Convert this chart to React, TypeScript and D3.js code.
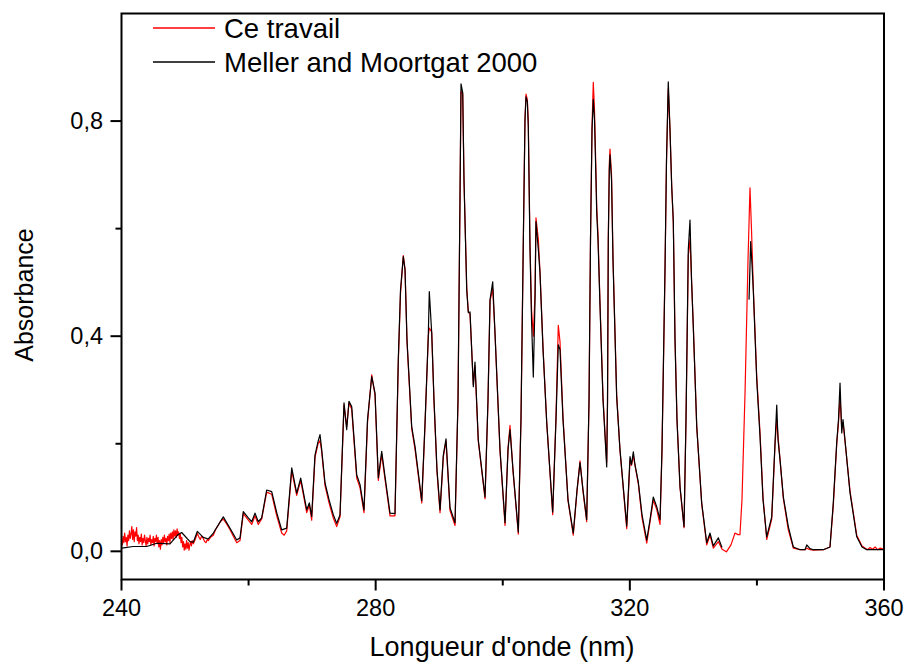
import React from 'react';
import * as d3 from 'd3';

const xTicksMajor = [240, 280, 320, 360];
const xTicksMinor = [260, 300, 340];
const yTicksMajor = [0, 0.4, 0.8];
const yTicksMinor = [0.2, 0.6];
const seriesNames = ['Ce travail', 'Meller and Moortgat 2000'];
const seriesColors = ['#ff0000', '#000000'];
const xTitle = "Longueur d'onde (nm)";
const yTitle = 'Absorbance';

// "Ce travail" spectrum: [wavelength nm, absorbance]
const ceTravail: [number, number][] = [
  [240.0, 0.020], [240.125, 0.012], [240.25, 0.028], [240.375, 0.016], [240.5, 0.034], [240.625, 0.018],
  [240.75, 0.026], [240.875, 0.010], [241.0, 0.030], [241.125, 0.020], [241.25, 0.038], [241.375, 0.024],
  [241.5, 0.032], [241.625, 0.046], [241.75, 0.022], [241.875, 0.040], [242.0, 0.018], [242.125, 0.036],
  [242.25, 0.028], [242.375, 0.044], [242.5, 0.020], [242.625, 0.030], [242.75, 0.014], [242.875, 0.026],
  [243.0, 0.018], [243.125, 0.032], [243.25, 0.012], [243.375, 0.024], [243.5, 0.016], [243.625, 0.030],
  [243.75, 0.020], [243.875, 0.010], [244.0, 0.026], [244.125, 0.014], [244.25, 0.024], [244.375, 0.018],
  [244.5, 0.030], [244.625, 0.012], [244.75, 0.022], [244.875, 0.016], [245.0, 0.028], [245.125, 0.010],
  [245.25, 0.024], [245.375, 0.018], [245.5, 0.030], [245.625, 0.014], [245.75, 0.026], [245.875, 0.008],
  [246.0, 0.020], [246.125, 0.004], [246.25, 0.022], [246.375, 0.012], [246.5, 0.026], [246.625, 0.016],
  [246.75, 0.030], [246.875, 0.018], [247.0, 0.024], [247.125, 0.012], [247.25, 0.028], [247.375, 0.020],
  [247.5, 0.032], [247.625, 0.016], [247.75, 0.034], [247.875, 0.024], [248.0, 0.036], [248.125, 0.022],
  [248.25, 0.040], [248.375, 0.028], [248.5, 0.038], [248.625, 0.026], [248.75, 0.042], [248.875, 0.030],
  [249.0, 0.036], [249.125, 0.024], [249.25, 0.032], [249.375, 0.016], [249.5, 0.026], [249.625, 0.008],
  [249.75, 0.018], [249.875, 0.002], [250.0, 0.014], [250.125, 0.004], [250.25, 0.020], [250.375, 0.006],
  [250.5, 0.016], [250.625, 0.002], [250.75, 0.012], [250.875, 0.018], [251.0, 0.010], [251.125, 0.020],
  [251.30, 0.014], [251.6, 0.022], [251.93, 0.033], [252.2, 0.026], [252.4, 0.022], [252.6, 0.028],
  [252.87, 0.024], [253.1, 0.018], [253.3, 0.016], [253.5, 0.022], [253.66, 0.020], [254.0, 0.026],
  [254.45, 0.030], [254.8, 0.040], [255.2, 0.048], [255.6, 0.056], [256.02, 0.060], [256.5, 0.052],
  [257.08, 0.040], [257.6, 0.028], [258.13, 0.016], [258.65, 0.020], [259.17, 0.070], [259.96, 0.058],
  [260.49, 0.050], [261.01, 0.066], [261.53, 0.050], [262.06, 0.060], [262.85, 0.110], [263.64, 0.106],
  [264.43, 0.066], [265.21, 0.034], [265.6, 0.030], [266.00, 0.038], [266.79, 0.150], [267.57, 0.104],
  [268.20, 0.132], [269.15, 0.072], [269.56, 0.086], [269.93, 0.058], [270.45, 0.174], [270.93, 0.200],
  [271.24, 0.206], [271.48, 0.188], [272.03, 0.122], [272.66, 0.090], [273.33, 0.062], [273.87, 0.046],
  [274.39, 0.064], [275.02, 0.272], [275.44, 0.232], [275.80, 0.276], [276.23, 0.264], [277.02, 0.136],
  [277.54, 0.118], [278.16, 0.072], [278.72, 0.240], [279.38, 0.328], [279.90, 0.290], [280.42, 0.132],
  [280.95, 0.180], [281.47, 0.134], [282.26, 0.066], [283.04, 0.066], [283.56, 0.350], [283.91, 0.480],
  [284.35, 0.550], [284.62, 0.525], [284.93, 0.390], [285.67, 0.228], [286.19, 0.190], [287.25, 0.090],
  [287.77, 0.235], [288.28, 0.400], [288.44, 0.415], [288.82, 0.408], [289.18, 0.278], [289.65, 0.148],
  [290.13, 0.072], [290.65, 0.176], [291.07, 0.205], [291.70, 0.076], [292.49, 0.048], [292.96, 0.280],
  [293.27, 0.650], [293.43, 0.855], [293.70, 0.850], [293.90, 0.690], [294.33, 0.490], [294.58, 0.446],
  [294.85, 0.440], [295.37, 0.310], [295.63, 0.345], [296.15, 0.205], [297.21, 0.098], [297.68, 0.280],
  [298.00, 0.466], [298.42, 0.488], [298.78, 0.405], [299.57, 0.186], [300.36, 0.048], [300.83, 0.192],
  [301.14, 0.234], [301.61, 0.150], [302.45, 0.032], [302.87, 0.245], [303.24, 0.580], [303.50, 0.805],
  [303.66, 0.850], [303.87, 0.840], [304.02, 0.800], [304.29, 0.570], [304.53, 0.450], [304.81, 0.400],
  [305.08, 0.480], [305.23, 0.620], [305.60, 0.580], [305.86, 0.520], [306.34, 0.378], [306.92, 0.240],
  [307.86, 0.068], [308.38, 0.250], [308.74, 0.420], [309.01, 0.390], [309.48, 0.250], [310.27, 0.094],
  [311.10, 0.030], [311.69, 0.112], [312.16, 0.168], [312.63, 0.112], [313.21, 0.055], [313.58, 0.280],
  [313.81, 0.580], [314.05, 0.790], [314.25, 0.872], [314.44, 0.820], [314.68, 0.700], [314.79, 0.640],
  [314.99, 0.590], [315.31, 0.460], [315.78, 0.285], [316.36, 0.165], [316.49, 0.280], [316.61, 0.580],
  [316.77, 0.720], [316.88, 0.748], [317.12, 0.700], [317.35, 0.545], [317.93, 0.290], [318.45, 0.188],
  [319.51, 0.042], [320.03, 0.170], [320.26, 0.160], [320.55, 0.178], [320.81, 0.160], [321.33, 0.126],
  [321.92, 0.062], [322.66, 0.015], [323.18, 0.055], [323.69, 0.095], [324.23, 0.078], [324.75, 0.050],
  [325.06, 0.185], [325.54, 0.525], [325.77, 0.725], [326.05, 0.860], [326.32, 0.785], [326.59, 0.680],
  [326.84, 0.610], [327.11, 0.395], [327.42, 0.245], [327.90, 0.118], [328.53, 0.044], [328.84, 0.245],
  [329.20, 0.550], [329.47, 0.580], [329.71, 0.505], [329.99, 0.418], [330.53, 0.232], [331.31, 0.088],
  [332.10, 0.012], [332.62, 0.030], [333.14, 0.006], [333.93, 0.018], [334.51, 0.004], [335.2, -0.001],
  [335.92, 0.012], [336.55, 0.034], [337.02, 0.031], [337.33, 0.031], [337.65, 0.096], [338.13, 0.295],
  [338.60, 0.542], [338.91, 0.676], [339.15, 0.598], [339.43, 0.490], [339.97, 0.325], [340.49, 0.220],
  [340.96, 0.100], [341.54, 0.022], [342.33, 0.060], [342.85, 0.198], [343.12, 0.245], [343.32, 0.215],
  [343.64, 0.170], [344.16, 0.098], [344.94, 0.040], [345.73, 0.006], [346.78, 0.003], [347.57, 0.003],
  [347.84, 0.006], [348.36, 0.003], [348.88, 0.002], [350.45, 0.003], [351.50, 0.008], [352.02, 0.085],
  [352.56, 0.200], [352.84, 0.240], [353.08, 0.285], [353.35, 0.230], [353.55, 0.240], [353.86, 0.205],
  [354.65, 0.112], [355.71, 0.030], [356.54, 0.010], [357.0, 0.006], [357.4, 0.003], [357.8, 0.007],
  [358.2, 0.004], [358.6, 0.008], [359.0, 0.003], [359.4, 0.006], [359.9, 0.004],
];

// Meller and Moortgat 2000 spectrum: [wavelength nm, absorbance] (null = no data)
const meller: [number, number | null][] = [
  [240.08, 0.006], [241.81, 0.009], [243.97, 0.009], [245.54, 0.015], [247.63, 0.014], [248.89, 0.031],
  [249.47, 0.035], [250.78, 0.018], [251.30, 0.017], [251.93, 0.037], [252.87, 0.026], [253.66, 0.023],
  [254.45, 0.034], [256.02, 0.064], [257.08, 0.043], [258.13, 0.021], [258.65, 0.025], [259.17, 0.074],
  [259.96, 0.062], [260.49, 0.055], [261.01, 0.071], [261.53, 0.055], [262.06, 0.062], [262.85, 0.114],
  [263.64, 0.111], [264.43, 0.072], [265.21, 0.040], [266.00, 0.043], [266.79, 0.155], [267.57, 0.108],
  [268.20, 0.136], [269.15, 0.077], [269.56, 0.090], [269.93, 0.065], [270.45, 0.179], [270.93, 0.204],
  [271.24, 0.217], [271.48, 0.192], [272.03, 0.127], [272.66, 0.096], [273.33, 0.068], [273.87, 0.052],
  [274.39, 0.068], [275.02, 0.276], [275.44, 0.226], [275.80, 0.279], [276.23, 0.269], [277.02, 0.142],
  [277.54, 0.124], [278.16, 0.077], [278.72, 0.245], [279.38, 0.325], [279.90, 0.294], [280.42, 0.137],
  [280.95, 0.186], [281.47, 0.139], [282.26, 0.071], [283.04, 0.070], [283.56, 0.356], [283.91, 0.486],
  [284.35, 0.548], [284.62, 0.523], [284.93, 0.393], [285.67, 0.232], [286.19, 0.195], [287.25, 0.094],
  [287.77, 0.239], [288.28, 0.399], [288.44, 0.483], [288.82, 0.406], [289.18, 0.282], [289.65, 0.152],
  [290.13, 0.077], [290.65, 0.179], [291.07, 0.209], [291.70, 0.081], [292.49, 0.053], [292.96, 0.282],
  [293.27, 0.654], [293.43, 0.869], [293.70, 0.853], [293.90, 0.691], [294.33, 0.486], [294.58, 0.444],
  [294.85, 0.445], [295.37, 0.306], [295.63, 0.352], [296.15, 0.207], [297.21, 0.101], [297.68, 0.282],
  [298.00, 0.468], [298.42, 0.501], [298.78, 0.406], [299.57, 0.189], [300.36, 0.053], [300.83, 0.189],
  [301.14, 0.226], [301.61, 0.152], [302.45, 0.036], [302.87, 0.245], [303.24, 0.579], [303.50, 0.802],
  [303.66, 0.845], [303.87, 0.836], [304.02, 0.789], [304.29, 0.561], [304.53, 0.430], [304.81, 0.324],
  [305.08, 0.468], [305.23, 0.613], [305.60, 0.561], [305.86, 0.518], [306.34, 0.375], [306.92, 0.239],
  [307.86, 0.073], [308.38, 0.245], [308.74, 0.384], [309.01, 0.375], [309.48, 0.245], [310.27, 0.096],
  [311.10, 0.034], [311.69, 0.114], [312.16, 0.165], [312.63, 0.114], [313.21, 0.059], [313.58, 0.282],
  [313.81, 0.579], [314.05, 0.784], [314.25, 0.840], [314.44, 0.802], [314.68, 0.687], [314.79, 0.629],
  [314.99, 0.579], [315.31, 0.455], [315.78, 0.282], [316.36, 0.157], [316.49, 0.282], [316.61, 0.579],
  [316.77, 0.709], [316.88, 0.737], [317.12, 0.691], [317.35, 0.542], [317.93, 0.287], [318.45, 0.189],
  [319.51, 0.047], [320.03, 0.176], [320.26, 0.161], [320.55, 0.185], [320.81, 0.161], [321.33, 0.129],
  [321.92, 0.068], [322.66, 0.021], [323.18, 0.059], [323.69, 0.101], [324.23, 0.083], [324.75, 0.059],
  [325.06, 0.189], [325.54, 0.529], [325.77, 0.728], [326.05, 0.873], [326.32, 0.784], [326.59, 0.678],
  [326.84, 0.616], [327.11, 0.393], [327.42, 0.245], [327.90, 0.120], [328.53, 0.046], [328.84, 0.245],
  [329.20, 0.561], [329.47, 0.616], [329.71, 0.505], [329.99, 0.417], [330.53, 0.232], [331.31, 0.090],
  [332.10, 0.016], [332.62, 0.034], [333.14, 0.010], [333.93, 0.025], [334.51, 0.007], [336.5, null],
  [338.76, 0.468], [339.02, 0.576], [339.23, 0.533], [339.43, 0.486], [339.97, 0.319], [340.49, 0.213],
  [340.96, 0.096], [341.54, 0.027], [342.33, 0.064], [342.85, 0.202], [343.12, 0.272], [343.32, 0.207],
  [343.64, 0.170], [344.16, 0.101], [344.94, 0.046], [345.73, 0.008], [346.78, 0.003], [347.57, 0.003],
  [347.84, 0.012], [348.36, 0.005], [348.88, 0.003], [350.45, 0.003], [351.50, 0.008], [352.02, 0.090],
  [352.56, 0.202], [352.84, 0.245], [353.08, 0.313], [353.35, 0.220], [353.55, 0.245], [353.86, 0.207],
  [354.65, 0.109], [355.71, 0.027], [356.54, 0.008], [357.28, 0.003], [359.89, 0.003],
];

const FONT = "'Liberation Sans', Arial, Helvetica, sans-serif";

export default function App() {
  const W = 905;
  const H = 664;
  const left = 121.5;
  const right = 884;
  const top = 13.5;
  const bottom = 579.5;

  const x = d3.scaleLinear().domain([240, 360]).range([left, right]);
  const y = d3.scaleLinear().domain([-0.0524, 1.0]).range([bottom, top]);

  const line = d3
    .line<[number, number | null]>()
    .defined((d) => d[1] !== null)
    .x((d) => x(d[0]))
    .y((d) => y(d[1] as number));

  const fmtY = (v: number) => d3.format('.1f')(v).replace('.', ',');

  return (
    <svg
      width={W}
      height={H}
      viewBox={`0 0 ${W} ${H}`}
      style={{ position: 'absolute', left: 0, top: 0, background: '#fff' }}
      fontFamily={FONT}
    >
      <rect x={0} y={0} width={W} height={H} fill="#fff" />
      <defs>
        <clipPath id="plotClip">
          <rect x={left} y={top} width={right - left} height={bottom - top} />
        </clipPath>
      </defs>

      <g clipPath="url(#plotClip)">
        <path d={line(ceTravail) || ''} fill="none" stroke={seriesColors[0]} strokeWidth={1.2} strokeLinejoin="round" />
        <path d={line(meller) || ''} fill="none" stroke={seriesColors[1]} strokeWidth={1.2} strokeLinejoin="round" />
      </g>

      {/* frame */}
      <rect x={left} y={top} width={right - left} height={bottom - top} fill="none" stroke="#000" strokeWidth={2} />

      {/* x ticks */}
      {xTicksMajor.map((t) => (
        <g key={`xM${t}`}>
          <line x1={x(t)} x2={x(t)} y1={bottom} y2={bottom + 11} stroke="#000" strokeWidth={2} />
          <text x={x(t)} y={616} textAnchor="middle" fontSize={23.5}>
            {t}
          </text>
        </g>
      ))}
      {xTicksMinor.map((t) => (
        <line key={`xm${t}`} x1={x(t)} x2={x(t)} y1={bottom} y2={bottom + 6} stroke="#000" strokeWidth={2} />
      ))}

      {/* y ticks */}
      {yTicksMajor.map((t) => (
        <g key={`yM${t}`}>
          <line x1={left - 11} x2={left} y1={y(t)} y2={y(t)} stroke="#000" strokeWidth={2} />
          <text x={103} y={y(t) + 8} textAnchor="end" fontSize={23.5}>
            {fmtY(t)}
          </text>
        </g>
      ))}
      {yTicksMinor.map((t) => (
        <line key={`ym${t}`} x1={left - 6} x2={left} y1={y(t)} y2={y(t)} stroke="#000" strokeWidth={2} />
      ))}

      {/* axis titles */}
      <text x={502} y={656} textAnchor="middle" fontSize={27}>
        {xTitle}
      </text>
      <text transform={`translate(33, 295) rotate(-90)`} textAnchor="middle" fontSize={25}>
        {yTitle}
      </text>

      {/* legend */}
      {seriesNames.map((name, i) => (
        <g key={name}>
          <line x1={153} x2={215} y1={28 + i * 34} y2={28 + i * 34} stroke={seriesColors[i]} strokeWidth={1.5} />
          <text x={224} y={38 + i * 34} fontSize={27.5}>
            {name}
          </text>
        </g>
      ))}
    </svg>
  );
}
